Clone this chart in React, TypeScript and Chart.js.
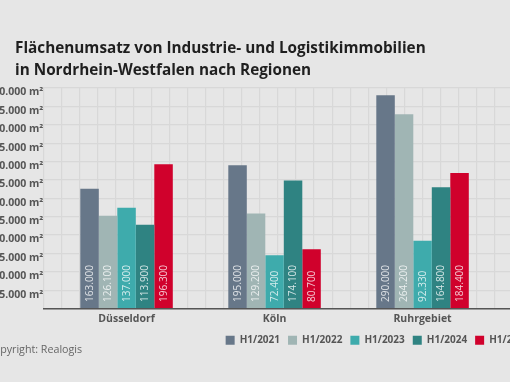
import React, { useEffect, useRef } from 'react';
import { Chart, registerables } from 'chart.js';

Chart.register(...registerables);

const categories = ['Düsseldorf', 'Köln', 'Ruhrgebiet'];
const seriesLabels = ['H1/2021', 'H1/2022', 'H1/2023', 'H1/2024', 'H1/2025'];
const h1_2021 = [163000, 195000, 290000];
const h1_2022 = [126100, 129200, 264200];
const h1_2023 = [137000, 72400, 92330];
const h1_2024 = [113900, 174100, 164800];
const h1_2025 = [196300, 80700, 184400];
const seriesColors = ['#677789', '#a0b5b4', '#3eabac', '#2f8382', '#d0012c'];
const yMax = 300000;
const yStep = 25000;

const FONT = '"Open Sans", "DejaVu Sans", sans-serif';
const X_MIN = -0.5625;
const X_MAX = 4.45;
const CELLS_PER_CAT = 8;

const fmt = (n: number) => String(Math.round(n)).replace(/\B(?=(\d{3})+(?!\d))/g, '.');

const valueLabels = {
  id: 'valueLabels',
  afterDatasetsDraw(chart: any) {
    const ctx = chart.ctx;
    ctx.save();
    ctx.font = `10px ${FONT}`;
    ctx.fillStyle = 'rgba(255,255,255,0.78)';
    ctx.textAlign = 'left';
    ctx.textBaseline = 'middle';
    chart.data.datasets.forEach((ds: any, di: number) => {
      const meta = chart.getDatasetMeta(di);
      meta.data.forEach((el: any, i: number) => {
        const v = ds.data[i].y;
        ctx.save();
        ctx.translate(el.x, el.base - 6);
        ctx.rotate(-Math.PI / 2);
        ctx.fillText(fmt(v), 0, 0.5);
        ctx.restore();
      });
    });
    ctx.restore();
  },
};

export default function App() {
  const ref = useRef<HTMLCanvasElement>(null);

  useEffect(() => {
    const series = [h1_2021, h1_2022, h1_2023, h1_2024, h1_2025];
    const datasets = series.map((arr, k) => ({
      label: seriesLabels[k],
      data: arr.map((y, i) => ({ x: i, y })),
      backgroundColor: seriesColors[k],
      borderWidth: 0,
      barPercentage: 1,
      categoryPercentage: 0.625,
    }));
    const tickFont = { family: FONT, size: 10.5, weight: 'bold' as const };
    const chart = new Chart(ref.current as HTMLCanvasElement, {
      type: 'bar',
      data: { datasets } as any,
      options: {
        responsive: false,
        animation: false,
        layout: { padding: { left: 0, right: 0.85, top: 88, bottom: 26.75 } },
        plugins: {
          legend: {
            position: 'bottom',
            labels: {
              boxWidth: 9,
              boxHeight: 9,
              padding: 8,
              color: '#555',
              font: { family: FONT, size: 10, weight: 'bold' },
            },
          },
          tooltip: { enabled: false },
        },
        scales: {
          x: {
            type: 'linear',
            min: X_MIN,
            max: X_MAX,
            offset: false,
            grid: { display: false, drawTicks: false },
            border: { display: true, color: '#555', width: 1.5 },
            ticks: {
              stepSize: 1,
              color: '#555',
              font: tickFont,
              padding: 4.5,
              maxRotation: 0,
              autoSkip: false,
              callback: (v: any) => categories[v] ?? '',
            },
            afterBuildTicks: (s: any) => {
              s.ticks = s.ticks.filter(
                (t: any) => Number.isInteger(t.value) && t.value >= 0 && t.value < categories.length
              );
            },
            afterFit: (s: any) => {
              s.height = 18.75;
            },
          },
          xg: {
            type: 'linear',
            position: 'bottom',
            min: 0,
            max: (X_MAX - X_MIN) * CELLS_PER_CAT,
            grid: { color: '#d8d8d8', lineWidth: 1.2, drawTicks: false },
            border: { display: false },
            ticks: { display: false, stepSize: 1, maxTicksLimit: 200 },
            afterFit: (s: any) => {
              s.height = 0;
            },
          },
          y: {
            min: 0,
            max: yMax,
            grid: { color: '#d8d8d8', lineWidth: 1.2, drawTicks: false },
            border: { display: false },
            ticks: {
              stepSize: yStep,
              padding: 0,
              labelOffset: 4.5,
              color: '#555',
              font: tickFont,
              callback: (v: any) => (v === 0 ? '' : fmt(v) + ' m²'),
            },
            afterFit: (s: any) => {
              s.width = 73.3;
            },
          },
        },
      } as any,
      plugins: [valueLabels],
    });
    return () => chart.destroy();
  }, []);

  return (
    <div
      style={{
        position: 'fixed',
        left: 0,
        top: 0,
        width: 510,
        height: 382,
        overflow: 'hidden',
        background: '#e6e6e6',
        fontFamily: FONT,
      }}
    >
      <div style={{ position: 'absolute', left: -30, top: 0, width: 816, height: 382 }}>
        <canvas ref={ref} width={816} height={382} style={{ display: 'block' }} />
      </div>
      <div
        style={{
          position: 'absolute',
          left: 15,
          top: 37,
          fontSize: 15.3,
          lineHeight: '21.5px',
          fontWeight: 700,
          color: '#1f1f1f',
          whiteSpace: 'nowrap',
        }}
      >
        <div>Flächenumsatz von Industrie- und Logistikimmobilien</div>
        <div>in Nordrhein-Westfalen nach Regionen</div>
      </div>
      <div
        style={{
          position: 'absolute',
          left: -13,
          top: 342,
          fontSize: 10.7,
          lineHeight: '14px',
          color: '#666',
          whiteSpace: 'nowrap',
        }}
      >
        Copyright: Realogis
      </div>
    </div>
  );
}
